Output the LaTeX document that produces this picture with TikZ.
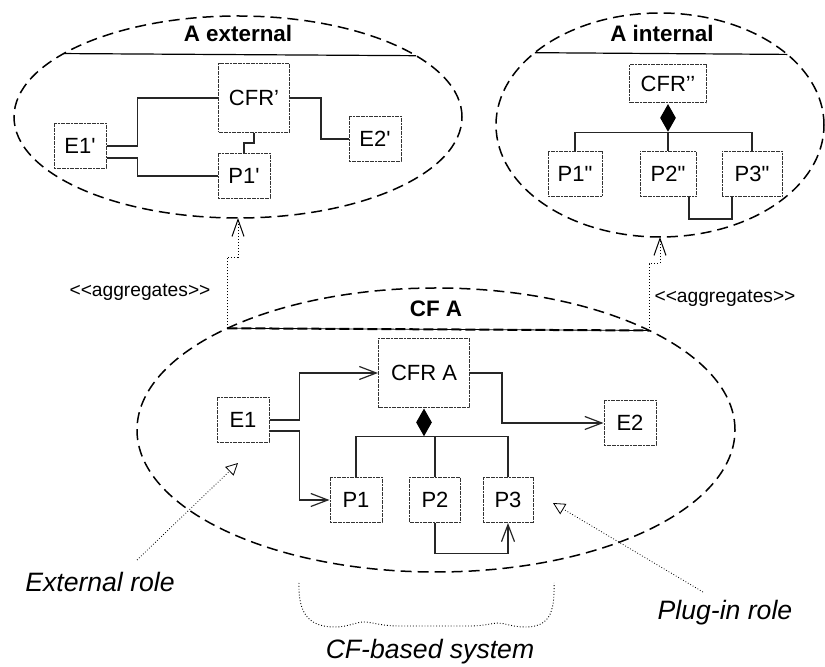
\documentclass[tikz,border=0pt]{standalone}
\usepackage{fontspec}
\setmainfont{Liberation Sans}
\usetikzlibrary{arrows.meta,shapes.geometric,positioning}
\begin{document}
\begin{tikzpicture}[x=0.5pt,y=-0.5pt,
  box/.style={draw=black!80,dash pattern=on 1pt off 0.3pt,line width=0.5pt,inner sep=0pt,minimum width=26pt,minimum height=22.5pt,font=\fontsize{11}{13}\selectfont},
  cloud/.style={draw,ellipse,dash pattern=on 5.5pt off 3pt,line width=0.75pt,inner sep=0pt,outer sep=0pt},
  title/.style={font=\fontsize{11.2}{13}\selectfont\bfseries},
  conn/.style={draw=black!85,line width=0.6pt},
  arr/.style={conn,-{Straight Barb[length=8.5pt,width=6.5pt]}},
  aggr/.style={densely dotted,line width=0.5pt,-{Straight Barb[length=8.5pt,width=6pt]}},
  role/.style={densely dotted,line width=0.4pt,-{Triangle[open,length=6pt,width=6pt]}},
  diam/.style={diamond,fill,inner sep=0pt,minimum width=8pt,minimum height=14pt},
  note/.style={font=\fontsize{13.3}{15}\selectfont\itshape},
  stereo/.style={font=\fontsize{9.6}{11}\selectfont}]
\useasboundingbox (0,0) rectangle (825,667);

\node[cloud,minimum width=224pt,minimum height=101pt] (extA) at (238,117) {};
\node[cloud,minimum width=164pt,minimum height=112pt] (intA) at (660,125) {};
\node[cloud,minimum width=299pt,minimum height=142pt] (cfA) at (436,430) {};
\draw[line width=0.6pt] (extA.160.2) -- (extA.19.8);
\draw[line width=0.6pt] (intA.150.8) -- (intA.29.2);
\draw[line width=0.4pt] (cfA.154.3) -- (cfA.25.7);
\draw[dash pattern=on 5pt off 2pt,line width=1pt] (cfA.154.3) -- (cfA.25.7);
\node[title] (tExt) at (238,34) {A external};
\node[title] (tInt) at (662,34) {A internal};
\node[title] (tCf) at (436,309) {CF A};

% A external
\node[box,minimum width=35.5pt,minimum height=34.5pt] (cfrE) at (254,98) {CFR\textquoteright};
\node[box] (e1E) at (80,146) {E1\textquotesingle};
\node[box] (e2E) at (375,139) {E2\textquotesingle};
\node[box] (p1E) at (244,176) {P1\textquotesingle};
\draw[conn] (e1E.east) -- ++(31,0) |- (cfrE.west);
\draw[conn] ([yshift=-6pt]e1E.east) -- ++(31,0) |- (p1E.west);
\draw[conn] (cfrE.east) -- ++(31,0) |- (e2E.west);
\draw[conn] (cfrE.south) -- ++(0,10) -| (p1E.north);

% A internal
\node[box,minimum width=38.5pt,minimum height=19pt] (cfrI) at (668,84) {CFR\textquoteright\textquoteright};
\node[diam,below=0pt of cfrI] (aggI) {};
\node[box,minimum width=27pt] (p1I) at (575,174) {P1\textquotedbl};
\node[box,minimum width=28pt] (p2I) at (668,174) {P2\textquotedbl};
\node[box,minimum width=30pt] (p3I) at (752,174) {P3\textquotedbl};
\draw[conn] (aggI.south) -| (p1I.north);
\draw[conn] (aggI.south) -- (p2I.north);
\draw[conn] (aggI.south) -| (p3I.north);
\draw[conn] ([xshift=10.5pt]p2I.south) -- ++(0,22) -| ([xshift=-10pt]p3I.south);

% CF A
\node[box,minimum width=45.5pt,minimum height=34.5pt] (cfr) at (424,373) {CFR A};
\node[diam,below=0pt of cfr] (aggA) {};
\node[box] (e1) at (243,420) {E1};
\node[box] (e2) at (630,423) {E2};
\node[box] (p1) at (356,500) {P1};
\node[box,minimum width=25.5pt] (p2) at (435,500) {P2};
\node[box,minimum width=25pt] (p3) at (508,500) {P3};
\draw[arr] (e1.east) -- ++(30,0) |- (cfr.west);
\draw[arr] ([yshift=-5.5pt]e1.east) -- ++(30,0) |- (p1.west);
\draw[arr] (cfr.east) -- ++(32,0) |- (e2.west);
\draw[conn] (aggA.south) -| (p1.north);
\draw[conn] (aggA.south) -| (p2.north);
\draw[conn] (aggA.south) -| (p3.north);
\draw[arr] (p2.south) -- ++(0,30.5) -| (p3.south);

% aggregates
\draw[aggr] (cfA.154.3) -- ++(0,-71) -| (extA.south);
\draw[aggr] (cfA.25.7) -- ++(0,-67) -| (intA.south);
\node[stereo] (agL) at (140,292) {<\kern0pt<aggregates>\kern0pt>};
\node[stereo] (agR) at (725,298) {<\kern0pt<aggregates>\kern0pt>};

% roles
\node[note] (extRole) at (100,582) {External role};
\node[note] (plugRole) at (725,613) {Plug-in role};
\coordinate (extTail) at (137,560);
\coordinate (extTip) at (238,463);
\coordinate (plugTail) at (703,592);
\coordinate (plugTip) at (553,503);
\draw[role] (extTail) -- (extTip);
\draw[role] (plugTail) -- (plugTip);

\draw[densely dotted,line width=0.45pt] (299,583) .. controls (298,615) and (310,627) .. (335,627)
  .. controls (348,627) and (356,622) .. (364,622)
  .. controls (372,622) and (380,626) .. (400,626) -- (470,626)
  .. controls (485,626) and (492,623) .. (498,623)
  .. controls (505,623) and (512,627) .. (525,627)
  .. controls (548,627) and (555,615) .. (554,583);
\node[note] (sysLbl) at (430,652) {CF-based system};
\end{tikzpicture}
\end{document}
